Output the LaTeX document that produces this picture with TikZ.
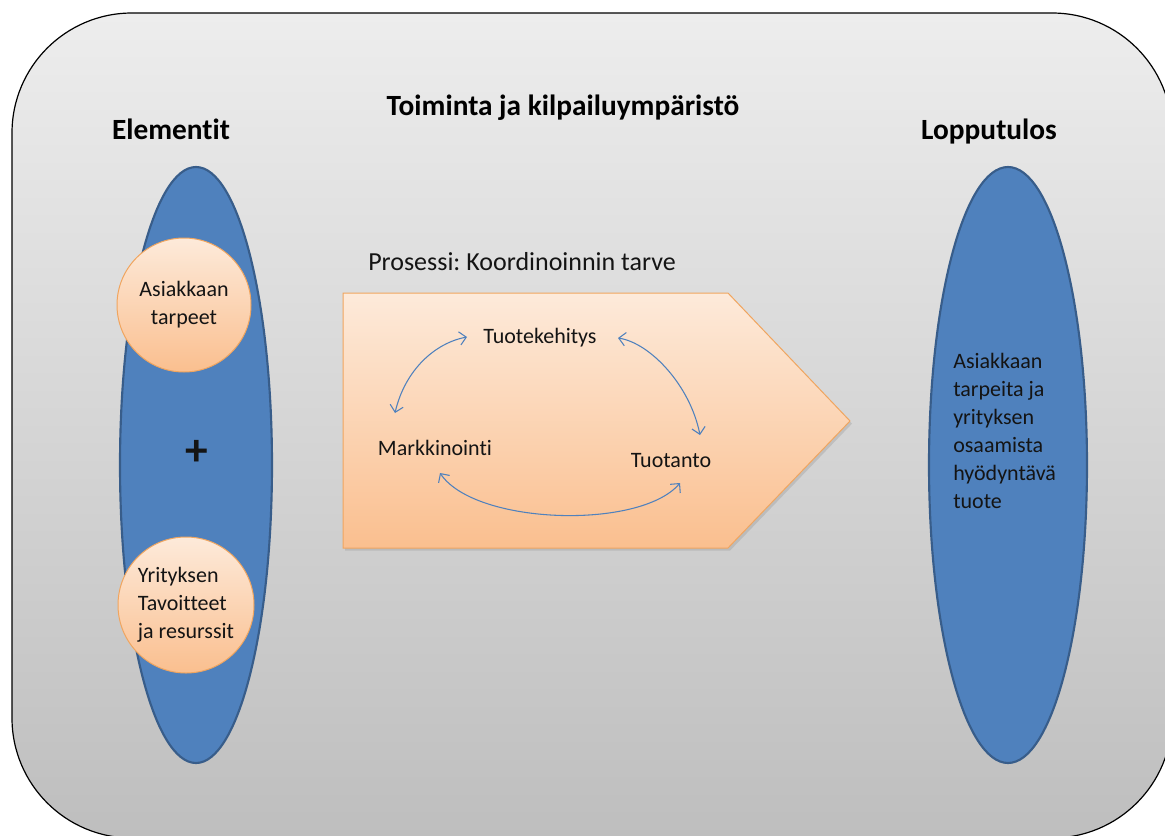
\documentclass[tikz,border=0pt]{standalone}
\usepackage{fontspec}
\setmainfont{Carlito}[Ligatures=NoCommon]
\frenchspacing
\usetikzlibrary{arrows.meta,shapes.geometric,shadows}
\definecolor{bgtop}{RGB}{237,237,237}
\definecolor{bgbot}{RGB}{190,190,190}
\definecolor{blfill}{RGB}{79,129,189}
\definecolor{bldraw}{RGB}{56,93,138}
\definecolor{ortop}{RGB}{253,234,218}
\definecolor{orbot}{RGB}{250,191,143}
\definecolor{ordraw}{RGB}{240,165,95}
\definecolor{txt}{RGB}{20,20,20}
\begin{document}
\begin{tikzpicture}[x=0.75pt,y=-0.75pt,
  heading/.style={font=\fontsize{22}{26}\selectfont\bfseries, text=black, inner sep=0pt},
  body/.style={font=\fontsize{16.5}{21}\selectfont, text=txt, inner sep=0pt},
  blueell/.style={ellipse, fill=blfill, draw=bldraw, line width=1.6pt, inner sep=0pt},
  peach/.style={circle, draw=ordraw, line width=0.75pt, top color=ortop, bottom color=orbot, inner sep=0pt},
  cyc/.style={draw=blfill, line width=0.8pt, {Straight Barb[length=5pt,width=10pt]}-{Straight Barb[length=5pt,width=10pt]}}
]
\useasboundingbox (0,0) rectangle (1165,836);
% background
\path[draw=black, line width=0.9pt, top color=bgtop, bottom color=bgbot, rounded corners=90pt]
  (12,13) rectangle (1172,838);
% headings
\node[heading, anchor=base] (title) at (563,115) {Toiminta ja kilpailuympäristö};
\node[heading, anchor=base] (elem) at (171,139) {Elementit};
\node[heading, anchor=base] (lopp) at (989,139) {Lopputulos};
% ellipses
\node[blueell, minimum width=114pt, minimum height=447pt] (lell) at (196,465) {};
\node[blueell, minimum width=118.5pt, minimum height=447pt] (rell) at (1008,465) {};
% circles
\node[peach, minimum size=100.5pt, body, align=center] (c1) at (184,305) {Asiakkaan\\tarpeet};
\node[peach, minimum size=102pt, body, align=left] (c2) at (186,605) {Yrityksen\\Tavoitteet\\ja resurssit};
\node[font=\fontsize{34}{40}\selectfont\bfseries, text=txt, inner sep=0pt] (plus) at (197,453) {+};
% right text
\node[body, align=left, anchor=north west] (rtxt) at (953,353)
  {Asiakkaan\\tarpeita ja\\yrityksen\\osaamista\\hyödyntävä\\tuote};
% process
\node[font=\fontsize{19.5}{24}\selectfont, text=txt, inner sep=0pt, anchor=base west] (proc) at (368,270) {Prosessi: Koordinoinnin tarve};
\path[draw=ordraw, line width=0.75pt, top color=ortop, bottom color=orbot,
  drop shadow={shadow xshift=1.5pt, shadow yshift=-2pt, opacity=0.25}]
  (343,293) -- (728,293) -- (850,421) -- (728,548) -- (343,548) -- cycle;
\node[body, anchor=base] (tk) at (540,343) {Tuotekehitys};
\node[body, anchor=base] (mk) at (435,455) {Markkinointi};
\node[body, anchor=base] (tt) at (671,467) {Tuotanto};
\coordinate (a1s) at (467,337);
\coordinate (a1e) at (395,413);
\coordinate (a2s) at (618,338);
\coordinate (a2e) at (700,435);
\coordinate (a3s) at (440,473);
\coordinate (a3e) at (680,483);
\draw[cyc] (a1s) .. controls (435,343) and (405,370) .. (a1e);
\draw[cyc] (a2s) .. controls (650,343) and (690,385) .. (a2e);
\draw[cyc] (a3s) .. controls (475,525) and (640,530) .. (a3e);
\end{tikzpicture}
\end{document}
